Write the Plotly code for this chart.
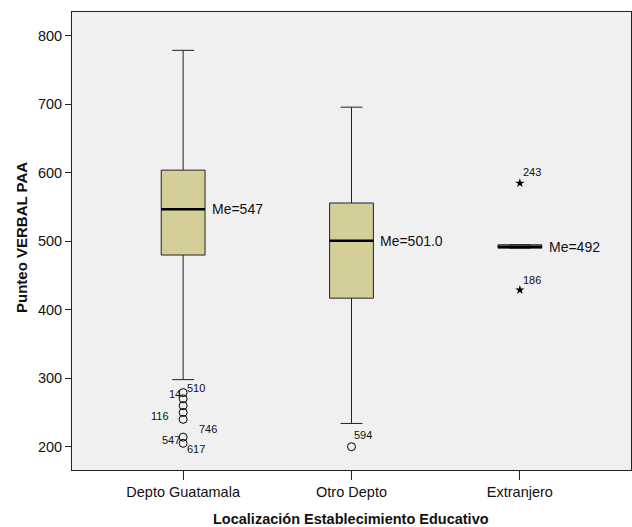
import plotly.graph_objects as go

categories = ["Depto Guatamala", "Otro Depto", "Extranjero"]
q1 = [480, 417, 490]
median = [547, 501, 492]
q3 = [604, 556, 495]
lower_whisker = [298, 234, 490]
upper_whisker = [779, 696, 495]
median_labels = ["Me=547", "Me=501.0", "Me=492"]

circle_outliers_group = [0, 0, 0, 0, 0, 0, 0, 1]
circle_outliers_value = [279, 270, 260, 250, 240, 214, 205, 200]
star_outliers_group = [2, 2]
star_outliers_value = [585, 429]

# (group index, value, label, label x-shift px, label y-shift px)
outlier_labels = [
    (0, 279, "510", 13, 5),
    (0, 279, "14", -8, -1),
    (0, 240, "116", -23, 3),
    (0, 214, "746", 25, 8),
    (0, 214, "547", -12, -3),
    (0, 205, "617", 13, -6),
    (1, 200, "594", 11, 12),
    (2, 585, "243", 12, 11),
    (2, 429, "186", 12, 10),
]

x_title = "Localización Establecimiento Educativo"
y_title = "Punteo VERBAL PAA"

BOX_W = 0.26
FILL = "#D4CF99"
FONT = "Liberation Sans, Arial, sans-serif"
TXT = "#111111"

fig = go.Figure()
xs = list(range(len(categories)))
fig.add_trace(go.Box(
    x=xs, q1=q1, median=median, q3=q3,
    lowerfence=lower_whisker, upperfence=upper_whisker,
    width=BOX_W, fillcolor=FILL,
    line=dict(color="#222222", width=1),
    whiskerwidth=0.5, boxpoints=False, showlegend=False,
    hoverinfo="skip",
))

mx, my = [], []
for i, m in enumerate(median):
    mx += [i - BOX_W / 2, i + BOX_W / 2, None]
    my += [m, m, None]
fig.add_trace(go.Scatter(x=mx, y=my, mode="lines",
                         line=dict(color="black", width=2.5),
                         showlegend=False, hoverinfo="skip"))

fig.add_trace(go.Scatter(
    x=circle_outliers_group, y=circle_outliers_value, mode="markers",
    marker=dict(symbol="circle-open", size=8, color="black", line=dict(width=1)),
    showlegend=False, hoverinfo="skip"))
fig.add_trace(go.Scatter(
    x=star_outliers_group, y=star_outliers_value, mode="markers",
    marker=dict(symbol="star", size=7, color="black"),
    showlegend=False, hoverinfo="skip"))

for i, m in enumerate(median):
    fig.add_annotation(x=i + BOX_W / 2, y=m, text=median_labels[i],
                       xanchor="left", yanchor="middle", xshift=5,
                       showarrow=False, font=dict(size=14, color=TXT, family=FONT))

for g, v, t, dx, dy in outlier_labels:
    fig.add_annotation(x=g, y=v, text=t, xanchor="center", yanchor="middle",
                       xshift=dx, yshift=dy, showarrow=False,
                       font=dict(size=11, color=TXT, family=FONT))

fig.add_annotation(xref="paper", yref="paper", x=0.499, y=0, yshift=-49,
                   text="<b>" + x_title + "</b>", showarrow=False,
                   xanchor="center", yanchor="middle",
                   font=dict(size=14.5, color=TXT, family=FONT))
fig.add_annotation(xref="paper", yref="paper", x=0, xshift=-50, y=0.5066,
                   text="<b>" + y_title + "</b>", showarrow=False, textangle=-90,
                   xanchor="center", yanchor="middle",
                   font=dict(size=15, color=TXT, family=FONT))

fig.update_layout(
    width=632, height=527,
    margin=dict(l=72, r=1, t=12, b=57),
    paper_bgcolor="white", plot_bgcolor="#F0F0F0",
    font=dict(family=FONT, size=14.5, color=TXT),
)
fig.update_xaxes(
    range=[-0.66, 2.66], tickvals=xs, ticktext=categories,
    ticks="outside", ticklen=9, tickcolor="#222222",
    showline=True, linecolor="#222222", linewidth=1, mirror=True,
    showgrid=False, zeroline=False, automargin=False,
)
fig.update_yaxes(
    range=[166, 835], tickvals=[200, 300, 400, 500, 600, 700, 800],
    ticks="outside", ticklen=6, tickcolor="#222222",
    showline=True, linecolor="#222222", linewidth=1, mirror=True,
    showgrid=False, zeroline=False, automargin=False,
)

fig.write_html(
    "out.html",
    config={"displayModeBar": False},
    post_script="document.body.style.margin='0';document.body.style.overflow='hidden';",
)
